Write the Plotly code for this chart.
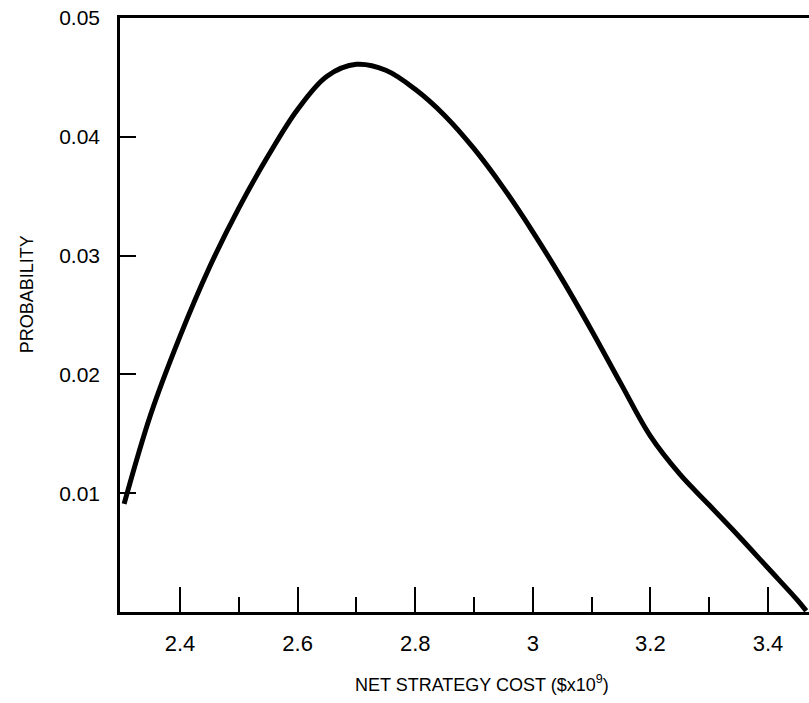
import plotly.graph_objects as go

# Data
cost = [2.305, 2.35, 2.40, 2.45, 2.50, 2.55, 2.60, 2.65, 2.70, 2.75, 2.80, 2.85,
        2.90, 2.95, 3.00, 3.05, 3.10, 3.15, 3.20, 3.25, 3.30, 3.35, 3.40, 3.45, 3.465]
prob = [0.0091, 0.0166, 0.0232, 0.0290, 0.0340, 0.0384, 0.0423, 0.0451, 0.0461, 0.0456,
        0.0440, 0.0418, 0.0390, 0.0357, 0.0320, 0.0280, 0.0237, 0.0192, 0.0148, 0.0116,
        0.0090, 0.0064, 0.0037, 0.0010, 0.0001]

x_tickvals = [2.4, 2.6, 2.8, 3.0, 3.2, 3.4]
x_ticktext = ["2.4", "2.6", "2.8", "3", "3.2", "3.4"]
x_minorvals = [2.5, 2.7, 2.9, 3.1, 3.3]
y_tickvals = [0.01, 0.02, 0.03, 0.04, 0.05]
y_ticktext = ["0.01", "0.02", "0.03", "0.04", "0.05"]

FONT = "Liberation Sans, Arial, sans-serif"

fig = go.Figure()
fig.add_trace(go.Scatter(x=cost, y=prob, mode="lines",
                         line=dict(color="black", width=5, shape="spline", smoothing=1.0),
                         showlegend=False, hoverinfo="skip"))

fig.update_layout(
    width=809, height=703,
    margin=dict(l=120, r=0, t=18, b=91),
    paper_bgcolor="white", plot_bgcolor="white",
    font=dict(family=FONT, color="black", size=19),
    xaxis=dict(range=[2.298, 3.4697], showgrid=False, zeroline=False,
               showline=True, linecolor="black", linewidth=2.5, mirror=True,
               ticks="inside", ticklen=25, tickwidth=1.5, tickcolor="black",
               tickvals=x_tickvals, ticktext=x_ticktext,
               tickfont=dict(family=FONT, size=22),
               ticklabelstandoff=10,
               minor=dict(tickvals=x_minorvals, ticks="inside", ticklen=15,
                          tickwidth=1.5, tickcolor="black")),
    yaxis=dict(range=[0, 0.05], showgrid=False, zeroline=False,
               showline=True, linecolor="black", linewidth=2.5, mirror=False,
               ticks="inside", ticklen=16, tickwidth=1.5, tickcolor="black",
               tickvals=y_tickvals, ticktext=y_ticktext,
               tickfont=dict(family=FONT, size=21),
               ticklabelstandoff=13),
    annotations=[
        dict(text="PROBABILITY", xref="paper", yref="paper", x=-0.135, y=0.535,
             textangle=-90, showarrow=False, font=dict(family=FONT, size=18),
             xanchor="center", yanchor="middle"),
        dict(text="NET STRATEGY COST ($x10<sup>9</sup>)", xref="paper", yref="paper",
             x=0.525, y=-0.121, showarrow=False, font=dict(family=FONT, size=18),
             xanchor="center", yanchor="middle"),
    ],
)

fig.write_html("out.html")
